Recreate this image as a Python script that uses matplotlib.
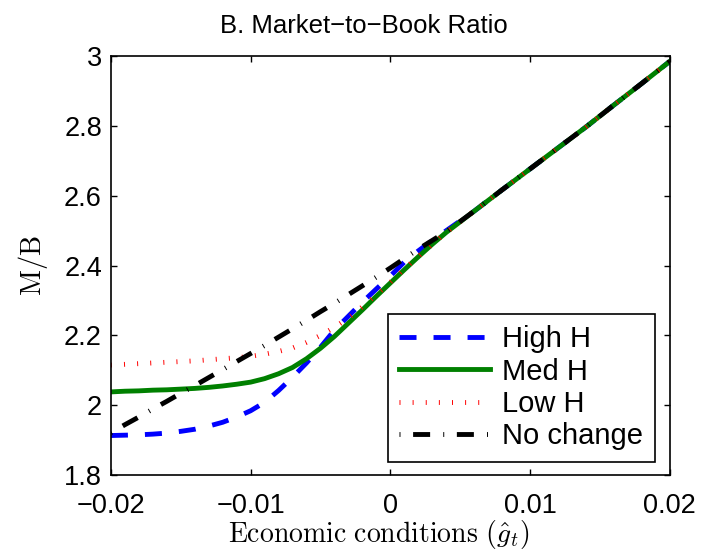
import matplotlib
matplotlib.use('Agg')
import matplotlib.pyplot as plt

# Economic conditions grid (g hat)
g = [-0.020, -0.019, -0.018, -0.017, -0.016, -0.015, -0.014, -0.013, -0.012,
     -0.011, -0.010, -0.009, -0.008, -0.007, -0.006, -0.005, -0.004, -0.003,
     -0.002, -0.001, 0.000, 0.001, 0.002, 0.003, 0.004,
     0.006, 0.008, 0.010, 0.012, 0.014, 0.016, 0.018, 0.020]

# Common upper branch where all four cases coincide
upper = [2.556, 2.617, 2.677, 2.737, 2.797, 2.860, 2.922, 2.985]

mb_high = [1.913, 1.914, 1.915, 1.917, 1.920, 1.925, 1.931, 1.940, 1.951,
           1.966, 1.984, 2.008, 2.042, 2.080, 2.121, 2.166, 2.215, 2.255,
           2.295, 2.333, 2.370, 2.410, 2.442, 2.472, 2.500] + upper
mb_med = [2.038, 2.040, 2.041, 2.043, 2.044, 2.046, 2.048, 2.051, 2.055,
          2.060, 2.066, 2.076, 2.090, 2.108, 2.133, 2.163, 2.197, 2.235,
          2.273, 2.312, 2.350, 2.388, 2.425, 2.461, 2.495] + upper
mb_low = [2.115, 2.117, 2.119, 2.121, 2.123, 2.125, 2.127, 2.130, 2.133,
          2.136, 2.140, 2.146, 2.154, 2.164, 2.180, 2.200, 2.223, 2.250,
          2.282, 2.316, 2.352, 2.390, 2.426, 2.461, 2.495] + upper
mb_none = [1.921, 1.944, 1.966, 1.989, 2.011, 2.034, 2.056, 2.079, 2.102,
           2.125, 2.148, 2.171, 2.195, 2.219, 2.243, 2.268, 2.292, 2.317,
           2.342, 2.367, 2.393, 2.420, 2.447, 2.472, 2.497] + upper

xticks = [-0.02, -0.01, 0, 0.01, 0.02]
xticklabels = ['\u22120.02', '\u22120.01', '0', '0.01', '0.02']
yticks = [1.8, 2.0, 2.2, 2.4, 2.6, 2.8, 3.0]
yticklabels = ['1.8', '2', '2.2', '2.4', '2.6', '2.8', '3']

plt.rcParams['font.family'] = ['Liberation Sans', 'DejaVu Sans']
plt.rcParams['mathtext.fontset'] = 'cm'

fig = plt.figure(figsize=(7.02, 5.51), dpi=100)
ax = fig.add_axes([0.158, 0.138, 0.796, 0.760])

lw = 3.5
ax.plot(g, mb_high, color='#0000ff', lw=lw, dashes=(3.5, 3.5), label='High H')
ax.plot(g, mb_med, color='#008000', lw=lw, label='Med H')
ax.plot(g, mb_low, color='#ff0000', lw=lw, dashes=(0.2, 2.5), label='Low H')
ax.plot(g, mb_none, color='black', lw=lw, dashes=(0.2, 2.6, 3.5, 2.7),
        label='No change')

ax.set_xlim(-0.02, 0.02)
ax.set_ylim(1.8, 3.0)
ax.set_xticks(xticks)
ax.set_xticklabels(xticklabels)
ax.set_yticks(yticks)
ax.set_yticklabels(yticklabels)
ax.tick_params(direction='in', length=4, width=1, top=True, right=True,
               labelsize=19.5)
ax.tick_params(axis='x', pad=13)
ax.tick_params(axis='y', pad=6.5)
for s in ax.spines.values():
    s.set_linewidth(1.2)

# title and x label sit a little left of the axes centre
ax.set_title('B. Market\u2212to\u2212Book Ratio', fontsize=18.5, pad=17,
             x=0.453)
ax.set_xlabel(r'$\mathrm{Economic\ conditions}\ (\hat{g}_t)$', fontsize=20,
              labelpad=-1, x=0.479)
ax.set_ylabel(r'$\mathrm{M/B}$', fontsize=20.5, labelpad=10)

leg = ax.legend(loc='lower right', bbox_to_anchor=(0.973, 0.031),
                borderaxespad=0, fontsize=21, handlelength=3.1,
                labelspacing=0.15, handletextpad=0.42, borderpad=0.4,
                fancybox=False, edgecolor='black', framealpha=1)
leg.get_frame().set_linewidth(1.2)

plt.savefig('out.png', dpi=100)
